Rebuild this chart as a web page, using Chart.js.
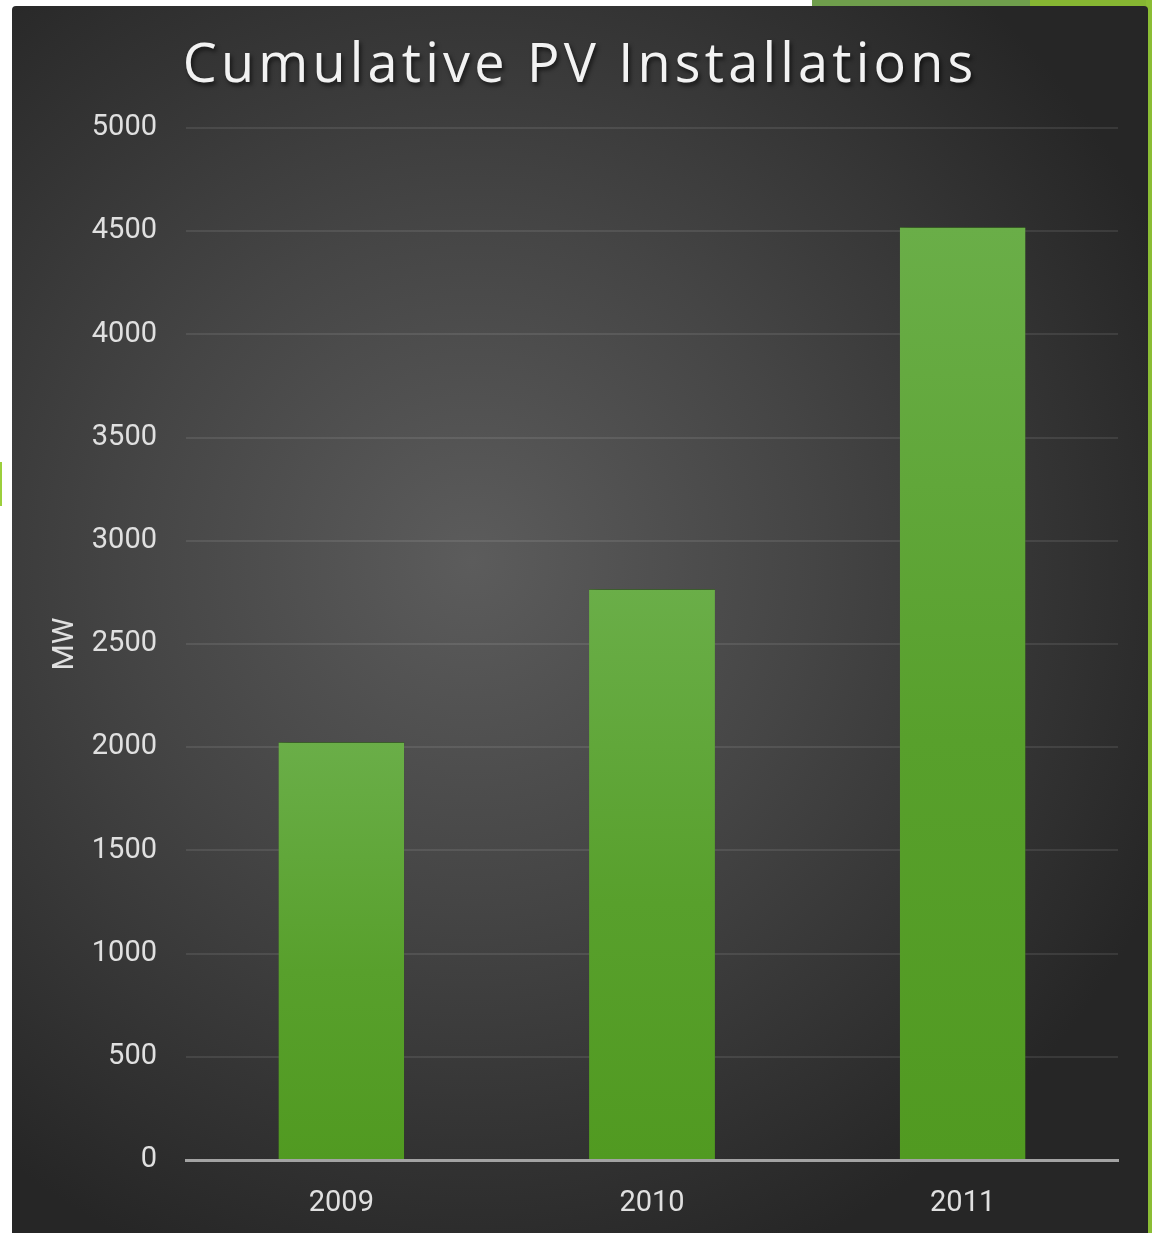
<!DOCTYPE html>
<html>
<head>
<meta charset="utf-8">
<script src="https://cdn.jsdelivr.net/npm/chart.js@4.4.1/dist/chart.umd.min.js"></script>
<style>
  html, body { margin: 0; padding: 0; background: #ffffff; width: 1152px; height: 1233px; overflow: hidden; position: relative; }
  .deco1 { position: absolute; left: 812px; top: 0; width: 340px; height: 8px; background: #6f9e4c; }
  .deco2 { position: absolute; left: 1030px; top: 0; width: 122px; height: 8px; background: #86b632; }
  .deco3 { position: absolute; left: 1146px; top: 0; width: 6px; height: 1233px; background: #8bbd34; }
  .deco4 { position: absolute; left: 0; top: 462px; width: 2px; height: 44px; background: #9ccf3c; }
  #wrap { position: absolute; left: 12px; top: 6px; width: 1136px; height: 1227px; border-radius: 4px 4px 0 0; overflow: hidden; }
</style>
</head>
<body>
<div class="deco1"></div>
<div class="deco2"></div>
<div class="deco3"></div>
<div class="deco4"></div>
<div id="wrap"><canvas id="c" width="1136" height="1227"></canvas></div>
<script>
const TITLE = 'Cumulative PV Installations';
const categories = ['2009', '2010', '2011'];
const seriesName = 'Cumulative PV Installations (MW)';
const values = [2025, 2766, 4520];
const yAxisTitle = 'MW';
const yTicks = [0, 500, 1000, 1500, 2000, 2500, 3000, 3500, 4000, 4500, 5000];

const bgPlugin = {
  id: 'bg',
  beforeDraw(chart) {
    const { ctx, width, height } = chart;
    ctx.save();
    const g = ctx.createRadialGradient(460, 555, 0, 460, 555, 760);
    g.addColorStop(0, '#5c5c5c');
    g.addColorStop(0.45, '#454545');
    g.addColorStop(1, '#262626');
    ctx.fillStyle = g;
    ctx.fillRect(0, 0, width, height);
    ctx.restore();
  }
};

const titlePlugin = {
  id: 'customTitle',
  afterDraw(chart) {
    const { ctx } = chart;
    ctx.save();
    ctx.font = '500 54px "Open Sans", sans-serif';
    let spacing = 0;
    if ('letterSpacing' in ctx) { ctx.letterSpacing = '4.2px'; spacing = 4.2; }
    ctx.textAlign = 'center';
    ctx.textBaseline = 'alphabetic';
    ctx.shadowColor = 'rgba(0,0,0,0.6)';
    ctx.shadowBlur = 4;
    ctx.shadowOffsetX = 2;
    ctx.shadowOffsetY = 3;
    ctx.fillStyle = '#f2f2f2';
    ctx.fillText(TITLE, chart.width / 2 - 2 + spacing / 2, 76);
    ctx.restore();
  }
};

const shadowPlugin = {
  id: 'barShadow',
  beforeDatasetsDraw(chart) {
    const ctx = chart.ctx;
    ctx.save();
    ctx.shadowColor = 'rgba(0,0,0,0.35)';
    ctx.shadowBlur = 12;
    ctx.shadowOffsetX = 4;
    ctx.shadowOffsetY = 0;
  },
  afterDatasetsDraw(chart) {
    chart.ctx.restore();
  }
};

function barGradient(context) {
  const chart = context.chart;
  const y = chart.scales.y;
  if (!y || !chart.chartArea || context.parsed === undefined) return '#5ea437';
  const top = y.getPixelForValue(context.parsed.y);
  const base = y.getPixelForValue(0);
  if (!isFinite(top) || !isFinite(base) || top === base) return '#5ea437';
  const g = chart.ctx.createLinearGradient(0, top, 0, base);
  g.addColorStop(0, '#6aae48');
  g.addColorStop(0.55, '#58a02c');
  g.addColorStop(1, '#519a21');
  return g;
}

new Chart(document.getElementById('c'), {
  type: 'bar',
  data: {
    labels: categories,
    datasets: [{
      label: seriesName,
      data: values,
      backgroundColor: barGradient,
      borderColor: 'rgba(70,120,45,0.8)',
      borderWidth: { top: 1, left: 0, right: 0, bottom: 0 },
      categoryPercentage: 1,
      barPercentage: 0.405
    }]
  },
  options: {
    responsive: false,
    animation: false,
    devicePixelRatio: 1,
    layout: { padding: { top: 122, right: 30, left: 0, bottom: 0 } },
    plugins: {
      legend: { display: false },
      title: { display: false },
      tooltip: { enabled: false }
    },
    scales: {
      x: {
        grid: { display: false },
        border: { display: true, color: '#a3a3a3', width: 3 },
        ticks: {
          color: '#e0e0e0',
          font: { family: 'Roboto', size: 29 },
          padding: 18
        },
        afterFit(scale) { scale.height = 73; }
      },
      y: {
        min: 0,
        max: 5000,
        afterBuildTicks(scale) { scale.ticks = yTicks.map(v => ({ value: v })); },
        grid: {
          color: ctx => ctx.tick && ctx.tick.value === 0 ? 'rgba(0,0,0,0)' : 'rgba(255,255,255,0.09)',
          lineWidth: 2,
          drawTicks: false
        },
        border: { display: false },
        ticks: {
          color: '#e0e0e0',
          font: { family: 'Roboto', size: 29 },
          padding: 29,
          callback: v => String(v)
        },
        title: {
          display: true,
          text: yAxisTitle,
          color: '#e0e0e0',
          font: { family: 'Roboto', size: 30 },
          padding: { top: 35, bottom: 0 }
        },
        afterFit(scale) { scale.width = 174; }
      }
    }
  },
  plugins: [bgPlugin, shadowPlugin, titlePlugin]
});
</script>
</body>
</html>
